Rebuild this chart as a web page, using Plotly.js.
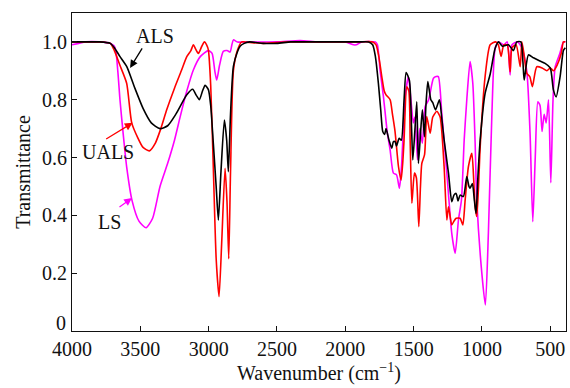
<!DOCTYPE html>
<html>
<head>
<meta charset="utf-8">
<script src="https://cdn.plot.ly/plotly-3.0.1.min.js"></script>
<style>html,body{margin:0;padding:0;background:#fff;}#chart{width:570px;height:388px;}</style>
</head>
<body>
<div id="chart"></div>
<script>
const seriesNames = ["ALS", "UALS", "LS"];
const seriesColors = ["#000000", "#ff0000", "#ff00ff"];

const alsX = [4000,3900,3800,3720,3690,3650,3600,3540,3480,3420,3356,3300,3240,3160,3117,3090,3068,3045,3026,3002,2985,2966,2945,2929,2910,2885,2868,2856,2840,2819,2790,2770,2740,2700,2600,2500,2400,2300,2200,2100,2000,1900,1830,1800,1780,1758,1740,1726,1712,1702,1680,1660,1648,1636,1625,1606,1590,1570,1555,1531,1515,1506,1490,1477,1465,1450,1436,1421,1410,1396,1374,1360,1340,1311,1295,1277,1245,1221,1205,1189,1175,1160,1136,1111,1095,1087,1070,1055,1043,1030,1013,977,940,904,879,850,806,770,745,715,700,691,660,623,580,538,500,477,457,428,404,390];
const alsY = [1.0,1.0,1.0,0.995,0.98,0.95,0.915,0.84,0.77,0.72,0.70,0.71,0.75,0.817,0.836,0.815,0.80,0.83,0.85,0.835,0.78,0.65,0.50,0.384,0.55,0.73,0.66,0.551,0.75,0.915,0.965,0.985,0.995,1.0,0.995,0.995,1.0,1.0,1.0,1.0,1.0,1.0,1.0,0.99,0.95,0.857,0.76,0.69,0.68,0.70,0.66,0.632,0.655,0.655,0.64,0.667,0.66,0.80,0.894,0.867,0.70,0.592,0.70,0.793,0.58,0.68,0.765,0.672,0.78,0.863,0.80,0.79,0.765,0.80,0.74,0.661,0.546,0.447,0.47,0.476,0.45,0.47,0.465,0.534,0.50,0.494,0.51,0.45,0.407,0.53,0.661,0.822,0.888,0.977,1.0,0.985,0.99,0.97,1.0,1.0,0.93,0.868,0.955,0.945,0.935,0.926,0.91,0.834,0.81,0.88,0.97,0.98];

const ualsX = [4000,3900,3800,3720,3690,3650,3600,3563,3520,3480,3434,3390,3350,3307,3250,3200,3160,3130,3112,3095,3075,3050,3031,3015,3002,2985,2965,2945,2924,2905,2880,2866,2853,2840,2819,2790,2758,2700,2600,2500,2400,2300,2200,2100,2000,1900,1800,1775,1755,1733,1715,1702,1672,1655,1636,1611,1592,1580,1570,1550,1535,1525,1513,1494,1480,1462,1450,1440,1420,1404,1379,1360,1330,1306,1277,1257,1245,1221,1205,1189,1160,1140,1123,1099,1074,1060,1050,1038,1025,1013,977,940,900,880,860,840,815,794,780,750,720,708,690,672,650,631,599,560,525,500,477,450,420,404,390];
const ualsY = [1.0,1.0,1.0,0.995,0.97,0.92,0.857,0.72,0.67,0.635,0.623,0.65,0.70,0.765,0.84,0.90,0.949,0.97,0.99,0.975,0.96,0.985,1.0,0.99,0.972,0.85,0.55,0.25,0.119,0.30,0.563,0.45,0.25,0.55,0.90,0.97,1.0,0.998,0.995,0.998,1.0,1.0,1.0,1.0,1.0,1.0,1.0,0.99,0.95,0.88,0.83,0.817,0.80,0.75,0.69,0.569,0.522,0.58,0.661,0.845,0.83,0.65,0.442,0.546,0.53,0.361,0.50,0.58,0.61,0.742,0.684,0.74,0.76,0.74,0.569,0.384,0.43,0.367,0.38,0.39,0.39,0.367,0.453,0.569,0.615,0.52,0.43,0.396,0.50,0.637,0.88,0.99,1.0,0.99,0.95,0.99,0.99,0.897,0.98,0.99,0.914,1.0,0.95,0.891,0.88,0.845,0.914,0.91,0.90,0.91,0.90,0.92,0.96,1.0,1.0];

const lsX = [4000,3950,3900,3800,3720,3685,3665,3649,3625,3600,3560,3510,3458,3410,3356,3300,3250,3209,3160,3112,3060,3002,2975,2955,2941,2920,2893,2865,2843,2830,2819,2790,2700,2500,2331,2200,2000,1940,1920,1880,1780,1765,1745,1721,1692,1672,1648,1625,1604,1590,1575,1562,1538,1520,1502,1490,1472,1455,1436,1416,1390,1355,1335,1319,1294,1257,1221,1196,1172,1150,1130,1111,1087,1067,1050,1038,1001,975,953,928,904,880,840,815,794,780,740,708,672,648,628,610,591,575,560,545,530,513,496,480,464,430,404,390];
const lsY = [0.99,0.995,1.0,1.0,0.995,0.98,0.90,0.80,0.68,0.568,0.45,0.38,0.357,0.39,0.50,0.58,0.66,0.74,0.83,0.903,0.95,0.97,0.96,0.90,0.868,0.92,0.967,0.97,0.965,0.99,1.007,1.0,1.0,1.0,1.005,1.0,1.0,0.99,0.99,1.0,1.0,0.99,0.90,0.811,0.684,0.626,0.546,0.54,0.494,0.56,0.70,0.811,0.88,0.80,0.72,0.74,0.592,0.70,0.65,0.776,0.80,0.874,0.88,0.88,0.753,0.546,0.338,0.269,0.384,0.453,0.661,0.80,0.932,0.857,0.65,0.453,0.2,0.09,0.338,0.74,0.977,1.0,0.99,1.0,0.886,0.99,1.0,0.98,0.90,0.684,0.378,0.60,0.793,0.78,0.69,0.75,0.72,0.8,0.513,0.80,0.914,0.96,1.0,1.0];

const xTicks = [4000,3500,3000,2500,2000,1500,1000,500];
const yTicks = [0.2,0.4,0.6,0.8,1.0];
const yTickText = ["0.2","0.4","0.6","0.8","1.0"];
const yZeroLabel = "0";

const xs = [alsX, ualsX, lsX];
const ys = [alsY, ualsY, lsY];
const traces = seriesNames.map((n,i)=>({
  x: xs[i], y: ys[i], name: n, type: "scatter", mode: "lines",
  line: {color: seriesColors[i], width: 1.6, shape: "spline", smoothing: 0.6}
}));
const ordered = [traces[2], traces[1], traces[0]];

const fam = "Liberation Serif, Times New Roman, serif";
const tfont = {family: fam, size: 20, color: "#111"};
const layout = {
  width: 570, height: 388,
  margin: {l: 72, r: 4, t: 13, b: 57},
  paper_bgcolor: "#fff", plot_bgcolor: "#fff",
  showlegend: false,
  font: tfont,
  xaxis: {
    range: [4000, 385], tickvals: xTicks, ticks: "inside", ticklen: 5, tickcolor: "#111",
    showline: true, linecolor: "#111", linewidth: 1, mirror: true, showgrid: false, zeroline: false,
    tickfont: tfont,
    title: {text: "Wavenumber (cm<sup>−1</sup>)", font: tfont, standoff: 4},
    automargin: false
  },
  yaxis: {
    range: [0, 1.10], tickvals: yTicks, ticktext: yTickText, ticks: "inside", ticklen: 5, tickcolor: "#111",
    showline: true, linecolor: "#111", linewidth: 1, mirror: true, showgrid: false, zeroline: false,
    tickfont: tfont,
    title: {text: "Transmittance", font: tfont, standoff: 6},
    automargin: false
  },
  annotations: [
    {xref: "paper", x: 0, xanchor: "right", xshift: -4, y: 0, yanchor: "middle", yshift: 8, text: yZeroLabel, showarrow: false, font: tfont},
    {x: 3575, y: 0.91, ax: 13, ay: -21, text: "", showarrow: true, arrowhead: 2, arrowsize: 1.2, arrowwidth: 1.3, arrowcolor: "#000"},
    {x: 3556, y: 0.72, ax: -28, ay: 17, text: "", showarrow: true, arrowhead: 2, arrowsize: 1.2, arrowwidth: 1.3, arrowcolor: "#ff0000"},
    {x: 3561, y: 0.46, ax: -14, ay: 10, text: "", showarrow: true, arrowhead: 2, arrowsize: 1.2, arrowwidth: 1.3, arrowcolor: "#ff00ff"},
    {x: 3392, y: 1.02, text: "ALS", showarrow: false, font: tfont},
    {x: 3736, y: 0.62, text: "UALS", showarrow: false, font: tfont},
    {x: 3729, y: 0.377, text: "LS", showarrow: false, font: tfont}
  ]
};
Plotly.newPlot("chart", ordered, layout, {displayModeBar: false, staticPlot: true});
</script>
</body>
</html>
